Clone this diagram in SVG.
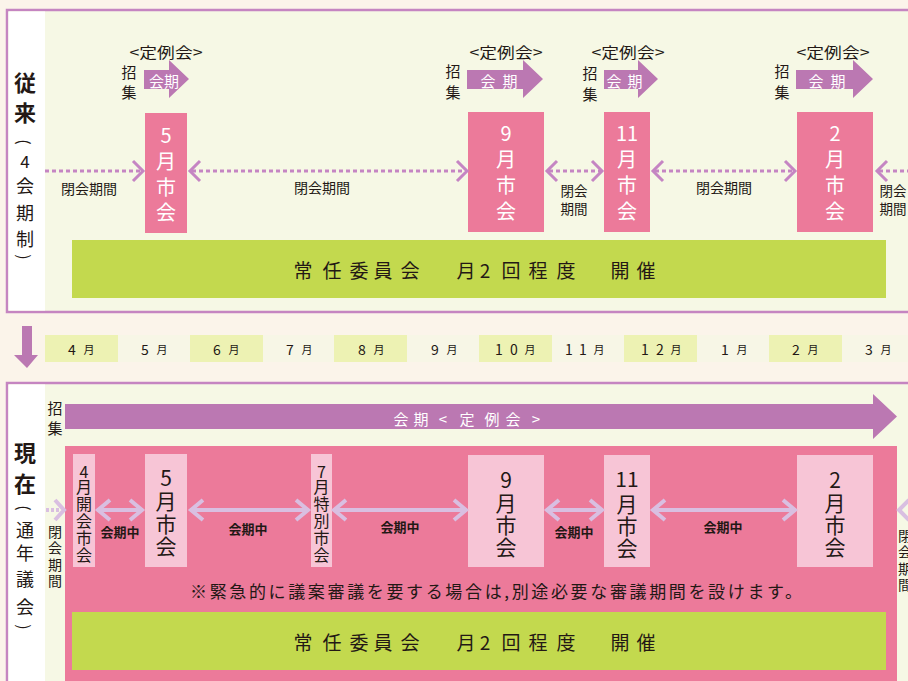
<svg xmlns="http://www.w3.org/2000/svg" width="908" height="681" viewBox="0 0 908 681">
<style>
.f{font-family:"Noto Sans CJK JP","Noto Sans",sans-serif;dominant-baseline:central;text-anchor:middle}
.dk{fill:#231815}
.wt{fill:#ffffff}
.pink{fill:#ec7a9a}
.lpink{fill:#f7c5d6}
.pur{fill:#bb78b2}
.green{fill:#c3d94e}
.dot{stroke:#c585c3;stroke-width:3;stroke-dasharray:4 3;fill:none}
.chev{stroke:#c585c3;stroke-width:3;fill:none}
.lav{stroke:#d9bfe1;stroke-width:4;fill:none}
.lavd{stroke:#d9bfe1;stroke-width:4;stroke-dasharray:3 2;fill:none}
.mhl{fill:#edf2b3}
.mno{fill:#f7f6e6}
</style>
<rect width="908" height="681" fill="#fbf4ea"/>

<g id="panel-old">
<rect x="7" y="10" width="912" height="302" fill="#f6f8e5" stroke="#c585c1" stroke-width="2.5"/>
<rect x="8.5" y="11.5" width="36.5" height="299" fill="#ffffff"/>
<text class="f dk" font-size="22" font-weight="bold" x="25" y="81">従</text>
<text class="f dk" font-size="22" font-weight="bold" x="25" y="111">来</text>
<text class="f dk" font-size="16" x="0" y="0" transform="translate(25 142) rotate(90)">(</text>
<text class="f dk" font-size="17" x="25" y="160">4</text>
<text class="f dk" font-size="18" x="25" y="185">会</text>
<text class="f dk" font-size="18" x="25" y="212">期</text>
<text class="f dk" font-size="18" x="25" y="238">制</text>
<text class="f dk" font-size="16" x="0" y="0" transform="translate(25 257) rotate(90)">)</text>
</g>

<g id="old-may">
<text class="f dk" font-size="15" x="166" y="51" textLength="73" lengthAdjust="spacingAndGlyphs">&lt;定例会&gt;</text>
<text class="f dk" font-size="15" x="129 129" y="71 91">招集</text>
<path class="pur" d="M144 70 H169 V60 L189 79 L169 98 V89 H144 Z"/>
<text class="f wt" font-size="15" x="164" y="80">会期</text>
<rect class="pink" x="145" y="113" width="42" height="120"/>
<text class="f wt" font-size="20" x="166 166 166 166" y="134 160 186 211">5月市会</text>
</g>

<g id="old-sep">
<text class="f dk" font-size="15" x="506" y="51" textLength="73" lengthAdjust="spacingAndGlyphs">&lt;定例会&gt;</text>
<text class="f dk" font-size="15" x="453 453" y="70 91">招集</text>
<path class="pur" d="M467 70 H523 V60 L543 79 L523 98 V89 H467 Z"/>
<text class="f wt" font-size="15" x="488 510" y="80 80">会期</text>
<rect class="pink" x="468" y="112" width="76" height="120"/>
<text class="f wt" font-size="20" x="506 506 506 506" y="132 158 184 210">9月市会</text>
</g>

<g id="old-nov">
<text class="f dk" font-size="15" x="628" y="51" textLength="73" lengthAdjust="spacingAndGlyphs">&lt;定例会&gt;</text>
<text class="f dk" font-size="15" x="590 590" y="72 93">招集</text>
<path class="pur" d="M604 70 H638 V60 L658 79 L638 98 V89 H604 Z"/>
<text class="f wt" font-size="15" x="614 635" y="80 80">会期</text>
<rect class="pink" x="604" y="112" width="46" height="120"/>
<text class="f wt" font-size="20" x="627" y="132">11</text>
<text class="f wt" font-size="20" x="627 627 627" y="158 184 210">月市会</text>
</g>

<g id="old-feb">
<text class="f dk" font-size="15" x="833" y="51" textLength="73" lengthAdjust="spacingAndGlyphs">&lt;定例会&gt;</text>
<text class="f dk" font-size="15" x="782 782" y="70 91">招集</text>
<path class="pur" d="M796 70 H853 V60 L873 79 L853 98 V89 H796 Z"/>
<text class="f wt" font-size="15" x="816 838" y="80 80">会期</text>
<rect class="pink" x="797" y="112" width="76" height="120"/>
<text class="f wt" font-size="20" x="835 835 835 835" y="132 158 184 210">2月市会</text>
</g>

<g id="old-committee">
<rect class="green" x="72" y="240" width="814" height="58"/>
<text class="f dk" font-size="19" x="303 332 359 383 410 466 485 511 538 566 620 646" y="269">常任委員会月2回程度開催</text>
</g>

<g id="connectors-old">
<path class="dot" d="M45 171 H141"/>
<path class="chev" d="M133 161 L143 171 L133 181"/>
<path class="dot" d="M192 171 H465"/>
<path class="chev" d="M200 161 L190 171 L200 181"/>
<path class="chev" d="M457 161 L467 171 L457 181"/>
<path class="dot" d="M549 171 H600"/>
<path class="chev" d="M557 161 L547 171 L557 181"/>
<path class="chev" d="M592 161 L602 171 L592 181"/>
<path class="dot" d="M655 171 H793"/>
<path class="chev" d="M663 161 L653 171 L663 181"/>
<path class="chev" d="M785 161 L795 171 L785 181"/>
<path class="dot" d="M879 171 H910"/>
<path class="chev" d="M887 161 L877 171 L887 181"/>
<text class="f dk" font-size="14" x="89" y="188">閉会期間</text>
<text class="f dk" font-size="14" x="322" y="187">閉会期間</text>
<text class="f dk" font-size="13.5" x="574" y="190">閉会</text>
<text class="f dk" font-size="13.5" x="574" y="208">期間</text>
<text class="f dk" font-size="14" x="724" y="187">閉会期間</text>
<text class="f dk" font-size="13.5" x="893" y="190">閉会</text>
<text class="f dk" font-size="13.5" x="893" y="208">期間</text>
</g>

<g id="transition-arrow">
<path class="pur" d="M22 326 H32 V355 H38 L27 368 L14 355 H22 Z"/>
</g>

<g id="months">
<rect class="mhl" x="45" y="335" width="73" height="27"/>
<rect class="mno" x="118" y="335" width="72" height="27"/>
<rect class="mhl" x="190" y="335" width="73" height="27"/>
<rect class="mno" x="263" y="335" width="71" height="27"/>
<rect class="mhl" x="334" y="335" width="73" height="27"/>
<rect class="mno" x="407" y="335" width="72" height="27"/>
<rect class="mhl" x="479" y="335" width="73" height="27"/>
<rect class="mno" x="552" y="335" width="72" height="27"/>
<rect class="mhl" x="624" y="335" width="73" height="27"/>
<rect class="mno" x="697" y="335" width="72" height="27"/>
<rect class="mhl" x="769" y="335" width="73" height="27"/>
<rect class="mno" x="842" y="335" width="72" height="27"/>
<g class="dk" font-size="14">
<text class="f" x="72" y="349">4</text><text class="f" font-size="11" x="89" y="349">月</text>
<text class="f" x="145" y="349">5</text><text class="f" font-size="11" x="162" y="349">月</text>
<text class="f" x="217" y="349">6</text><text class="f" font-size="11" x="234" y="349">月</text>
<text class="f" x="290" y="349">7</text><text class="f" font-size="11" x="307" y="349">月</text>
<text class="f" x="362" y="349">8</text><text class="f" font-size="11" x="379" y="349">月</text>
<text class="f" x="435" y="349">9</text><text class="f" font-size="11" x="452" y="349">月</text>
<text class="f" x="499 514" y="349 349">10</text><text class="f" font-size="11" x="530" y="349">月</text>
<text class="f" x="569 583" y="349 349">11</text><text class="f" font-size="11" x="599" y="349">月</text>
<text class="f" x="645 660" y="349 349">12</text><text class="f" font-size="11" x="676" y="349">月</text>
<text class="f" x="725" y="349">1</text><text class="f" font-size="11" x="742" y="349">月</text>
<text class="f" x="796" y="349">2</text><text class="f" font-size="11" x="813" y="349">月</text>
<text class="f" x="869" y="349">3</text><text class="f" font-size="11" x="886" y="349">月</text>
</g>
</g>

<g id="panel-new">
<rect x="7" y="383" width="912" height="320" fill="#f6f8e5" stroke="#c585c1" stroke-width="2.5"/>
<rect x="8.5" y="384.5" width="36.5" height="300" fill="#ffffff"/>
<text class="f dk" font-size="22" font-weight="bold" x="25" y="451">現</text>
<text class="f dk" font-size="22" font-weight="bold" x="25" y="482">在</text>
<text class="f dk" font-size="16" x="0" y="0" transform="translate(25 508) rotate(90)">(</text>
<text class="f dk" font-size="18" x="25" y="529">通</text>
<text class="f dk" font-size="18" x="25" y="552">年</text>
<text class="f dk" font-size="18" x="25" y="578">議</text>
<text class="f dk" font-size="18" x="25" y="606">会</text>
<text class="f dk" font-size="16" x="0" y="0" transform="translate(25 627) rotate(90)">)</text>
</g>

<g id="new-session-arrow">
<text class="f dk" font-size="15" x="55 55" y="407 427">招集</text>
<path class="pur" d="M65 404 H873 V394 L897 416.5 L873 439 V429 H65 Z"/>
<text class="f wt" font-size="15" x="401 421 443 467 492 513 536" y="418">会期&lt;定例会&gt;</text>
</g>

<g id="new-year">
<rect class="pink" x="65" y="446" width="832" height="240"/>
</g>

<g id="new-apr">
<rect class="lpink" x="73" y="454" width="22" height="113"/>
<text class="f dk" font-size="16" x="84 84 84 84 84 84" y="471 486 503 520 537 554">4月開会市会</text>
</g>
<g id="new-may">
<rect class="lpink" x="145" y="454" width="42" height="113"/>
<text class="f dk" font-size="21" x="166 166 166 166" y="477 500 523 545">5月市会</text>
</g>
<g id="new-jul">
<rect class="lpink" x="311" y="454" width="21" height="113"/>
<text class="f dk" font-size="16" x="321.5 321.5 321.5 321.5 321.5 321.5" y="471 486 503 520 537 554">7月特別市会</text>
</g>
<g id="new-sep">
<rect class="lpink" x="468" y="455" width="76" height="112"/>
<text class="f dk" font-size="21" x="506 506 506 506" y="479 502 524 546">9月市会</text>
</g>
<g id="new-nov">
<rect class="lpink" x="604" y="455" width="46" height="112"/>
<text class="f dk" font-size="21" x="627" y="478">11</text>
<text class="f dk" font-size="21" x="627 627 627" y="503 525 547">月市会</text>
</g>
<g id="new-feb">
<rect class="lpink" x="797" y="455" width="76" height="112"/>
<text class="f dk" font-size="21" x="835 835 835 835" y="479 502 524 546">2月市会</text>
</g>

<g id="new-note">
<text class="f dk" font-size="17" x="496" y="590" textLength="612" lengthAdjust="spacing">※緊急的に議案審議を要する場合は,別途必要な審議期間を設けます。</text>
</g>

<g id="new-committee">
<rect class="green" x="72" y="612" width="814" height="58"/>
<text class="f dk" font-size="19" x="303 332 359 383 410 466 485 511 538 566 620 646" y="641">常任委員会月2回程度開催</text>
</g>

<g id="connectors-new">
<path class="lavd" d="M46 510 H60"/>
<path class="lav" d="M55 500 L64 510 L55 520"/>
<path class="lav" d="M98 510 H142 M110 500 L98 510 L110 520 M130 500 L142 510 L130 520"/>
<path class="lav" d="M191 510 H308 M203 500 L191 510 L203 520 M296 500 L308 510 L296 520"/>
<path class="lav" d="M334 510 H466 M346 500 L334 510 L346 520 M454 500 L466 510 L454 520"/>
<path class="lav" d="M547 510 H602 M559 500 L547 510 L559 520 M590 500 L602 510 L590 520"/>
<path class="lav" d="M653 510 H795 M665 500 L653 510 L665 520 M783 500 L795 510 L783 520"/>
<path class="lav" d="M909 500 L899 510 L909 520"/>
<text class="f dk" font-size="13" font-weight="bold" x="120" y="531">会期中</text>
<text class="f dk" font-size="13" font-weight="bold" x="248" y="528">会期中</text>
<text class="f dk" font-size="13" font-weight="bold" x="400" y="526">会期中</text>
<text class="f dk" font-size="13" font-weight="bold" x="574" y="531">会期中</text>
<text class="f dk" font-size="13" font-weight="bold" x="723" y="526">会期中</text>
<text class="f dk" font-size="14" x="55 55 55 55" y="531 547 564 580">閉会期間</text>
<text class="f dk" font-size="14" x="905 905 905 905" y="535 551 568 584">閉会期間</text>
</g>
</svg>
